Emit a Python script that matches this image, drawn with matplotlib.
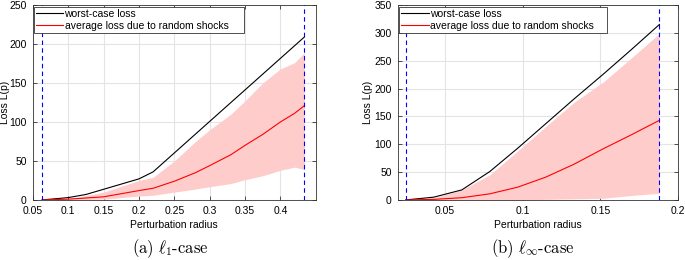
import matplotlib
matplotlib.use('Agg')
from matplotlib import pyplot as plt

# l1-case (left panel)
l1_worst_x = [0.063, 0.1, 0.125, 0.2, 0.22, 0.434]
l1_worst = [0, 3, 7, 27, 36, 209]
l1_x = [0.063, 0.1, 0.15, 0.2, 0.22, 0.25, 0.28, 0.3, 0.33, 0.35, 0.375, 0.4, 0.42, 0.434]
l1_mean = [0, 1, 4, 12, 15, 24, 35, 44, 58, 70, 84, 100, 111, 121]
l1_upper = [0, 1, 10, 25, 29, 50, 75, 90, 110, 127, 150, 168, 176, 189]
l1_lower = [0, 0, 1, 5, 6, 10, 14, 17, 21, 26, 31, 38, 42, 39]
l1_bounds = [0.063, 0.434]

# linf-case (right panel)
linf_x = [0.025, 0.043, 0.061, 0.079, 0.097, 0.115, 0.133, 0.152, 0.170, 0.188]
linf_worst = [0, 5, 18, 51, 93, 137, 181, 226, 270, 315]
linf_mean = [0, 1, 4, 11, 23, 41, 64, 92, 117, 143]
linf_upper = [0, 4, 18, 45, 88, 132, 175, 212, 255, 299]
linf_lower = [0, 0, 0, 0, 0, 1, 2, 3, 8, 12]
linf_bounds = [0.025, 0.188]

plt.rcParams['font.family'] = ['Liberation Sans', 'DejaVu Sans']
plt.rcParams['mathtext.fontset'] = 'cm'

fig = plt.figure(figsize=(6.85, 2.6), dpi=100)
ax1 = fig.add_axes([0.048, 0.231, 0.413, 0.75])
ax2 = fig.add_axes([0.581, 0.231, 0.409, 0.75])


def style_axes(ax, xlim, ylim, xticks, yticks, ylabel_x):
    ax.set_xlim(*xlim)
    ax.set_ylim(*ylim)
    ax.set_xticks(xticks)
    ax.set_yticks(yticks)
    ax.set_xticklabels([('%g' % t) for t in xticks])
    ax.grid(True, color='#e4e4e4', linewidth=0.8)
    ax.set_axisbelow(True)
    ax.tick_params(direction='in', top=True, right=True, labelsize=7.5,
                   length=3, width=0.6, color='#333333')
    ax.tick_params(axis='x', pad=4.5)
    ax.tick_params(axis='y', pad=4.5)
    for s in ax.spines.values():
        s.set_linewidth(0.6)
        s.set_color('#333333')
    ax.set_xlabel('Perturbation radius', fontsize=7.5, labelpad=3)
    ax.set_ylabel('Loss L(p)', fontsize=7.5)
    ax.yaxis.set_label_coords(ylabel_x, 0.5)


def draw_panel(ax, xw, worst, x, mean, lower, upper, bounds, ymax):
    ax.fill_between(x, lower, upper, color='#ffcccc', linewidth=0)
    ax.plot(xw, worst, color='black', linewidth=0.8, label='worst-case loss')
    ax.plot(x, mean, color='red', linewidth=0.8,
            label='average loss due to random shocks')
    for b in bounds:
        ax.plot([b, b], [0, ymax], color='blue', linestyle='--',
                linewidth=0.8, dashes=(4, 3), zorder=3)
    leg = ax.legend(loc='upper left', bbox_to_anchor=(0.005, 0.99, 0.74, 0),
                    mode='expand', fontsize=7.5, handlelength=2.6,
                    handletextpad=0.1, borderpad=0.2, labelspacing=0.15,
                    fancybox=False, framealpha=1, edgecolor='#333333',
                    borderaxespad=0)
    leg.get_frame().set_linewidth(0.6)


draw_panel(ax1, l1_worst_x, l1_worst, l1_x, l1_mean, l1_lower, l1_upper,
           l1_bounds, 250)
style_axes(ax1, (0.05, 0.45), (0, 250),
           [0.05, 0.1, 0.15, 0.2, 0.25, 0.3, 0.35, 0.4], range(0, 251, 50),
           -0.08)

draw_panel(ax2, linf_x, linf_worst, linf_x, linf_mean, linf_lower, linf_upper,
           linf_bounds, 350)
style_axes(ax2, (0.02, 0.2), (0, 350),
           [0.05, 0.1, 0.15, 0.2], range(0, 351, 50), -0.09)

fig.text(0.248, 0.025, r'$\mathrm{(a)}\ \ell_1\text{-case}$', ha='center',
         fontsize=12)
fig.text(0.777, 0.025, r'$\mathrm{(b)}\ \ell_\infty\text{-case}$', ha='center',
         fontsize=12)

plt.savefig('out.png', dpi=100)
